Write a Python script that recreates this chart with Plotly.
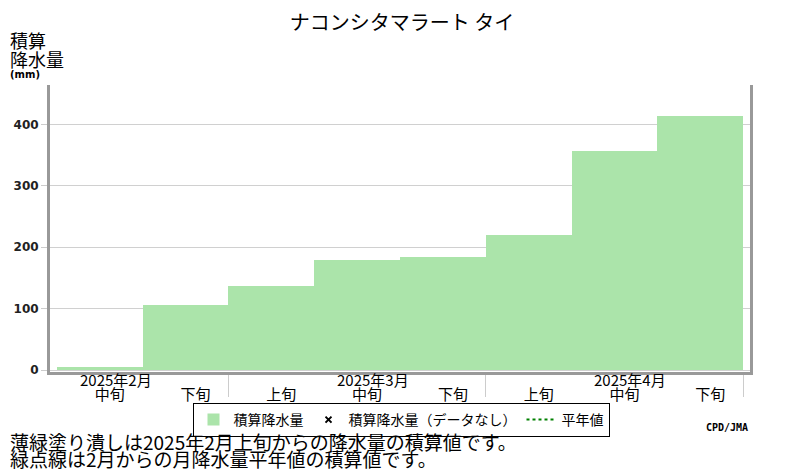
import plotly.graph_objects as pgo

# Data
months = ["2025年2月", "2025年2月", "2025年3月", "2025年3月", "2025年3月",
          "2025年4月", "2025年4月", "2025年4月"]
dekads = ["中旬", "下旬", "上旬", "中旬", "下旬", "上旬", "中旬", "下旬"]
precip = [5, 106, 137, 179, 184, 220, 356, 413]
yticks = [0, 100, 200, 300, 400]

title = "ナコンシタマラート タイ"
note1 = "薄緑塗り潰しは2025年2月上旬からの降水量の積算値です。"
note2 = "緑点線は2月からの月降水量平年値の積算値です。"

jp = "Noto Sans CJK JP"
green = "#abe4aa"

# the page body adds an 8px margin, so work in screen pixels minus 8
OFF = 8
W, H = 800 - OFF, 470 - OFF
L, R, T, B = 50 - OFF, 750 - OFF, 85 - OFF, 372 - OFF
def px(x):
    return (x - OFF - L) / (R - L)
def py(y):
    return (B - (y - OFF)) / (B - T)

xs = list(range(len(precip)))
# month boundaries (where the month changes) + right end
bounds = [i - 0.5 for i in range(1, len(months)) if months[i] != months[i - 1]] + [len(months) - 0.5]

fig = pgo.Figure()
fig.add_trace(pgo.Bar(x=xs, y=precip, width=1, marker=dict(color=green, line_width=0),
                      name="積算降水量"))
fig.add_trace(pgo.Scatter(x=[None], y=[None], mode="markers",
                          marker=dict(symbol="x-thin", size=6, color="black", line=dict(width=2, color="black")),
                          name="積算降水量（データなし）"))
fig.add_trace(pgo.Scatter(x=[None], y=[None], mode="lines",
                          line=dict(color="green", dash="dot", width=2), name="平年値"))

fig.update_layout(
    width=W, height=H,
    margin=dict(l=L, r=W - R, t=T, b=H - B, autoexpand=False),
    plot_bgcolor="white", paper_bgcolor="white",
    font=dict(family=jp, color="black"),
    title=dict(text=title, x=px(402), xanchor="center", xref="paper", y=1 - (22.5 - OFF) / H,
               yanchor="middle", font=dict(size=20, family=jp)),
    bargap=0,
    legend=dict(orientation="h", x=px(401), xanchor="center", y=py(403), yanchor="top",
                bordercolor="black", borderwidth=1, font=dict(size=14, family=jp),
                itemwidth=30, tracegroupgap=0),
    showlegend=True,
)

fig.update_xaxes(
    range=[-0.58, 7.58], tickvals=xs, ticktext=dekads, ticks="",
    tickfont=dict(size=15, family=jp), ticklabelshift=10, ticklabelstandoff=7,
    showline=True, linecolor="#999999", linewidth=3, showgrid=False, zeroline=False,
    automargin=False,
    minor=dict(tickvals=bounds, ticks="outside", ticklen=22, tickcolor="#cccccc", tickwidth=1),
)
fig.update_yaxes(
    range=[-3, 464], tickvals=yticks, ticks="outside", ticklen=6, tickcolor="#cccccc",
    tickfont=dict(size=12, family="DejaVu Sans", weight="bold", color="#222222"),
    showline=True, mirror=True, linecolor="#999999", linewidth=3,
    showgrid=True, gridcolor="#d0d0d0", gridwidth=1, zeroline=False,
    automargin=False,
)

# month labels above the 中旬 ticks
for i, (m, d) in enumerate(zip(months, dekads)):
    if d == "中旬":
        fig.add_annotation(text=m, x=xs[i], xref="x", y=py(379), yref="paper",
                           yanchor="middle", showarrow=False, xshift=16,
                           font=dict(size=15, family=jp))

# Axis title (top left)
fig.add_annotation(text="積算", xref="paper", yref="paper", x=px(8), y=py(40),
                   xanchor="left", yanchor="middle", showarrow=False, font=dict(size=18, family=jp))
fig.add_annotation(text="降水量", xref="paper", yref="paper", x=px(8), y=py(59),
                   xanchor="left", yanchor="middle", showarrow=False, font=dict(size=18, family=jp))
fig.add_annotation(text="(mm)", xref="paper", yref="paper", x=px(8), y=py(74),
                   xanchor="left", yanchor="middle", showarrow=False,
                   font=dict(size=10, family="DejaVu Sans", weight="bold"))

# Notes below
fig.add_annotation(text=note1, xref="paper", yref="paper", x=px(8), y=py(441),
                   xanchor="left", yanchor="middle", showarrow=False, font=dict(size=19, family=jp))
fig.add_annotation(text=note2, xref="paper", yref="paper", x=px(8), y=py(458),
                   xanchor="left", yanchor="middle", showarrow=False, font=dict(size=19, family=jp))
fig.add_annotation(text="CPD/JMA", xref="paper", yref="paper", x=px(750), y=py(427),
                   xanchor="right", yanchor="middle", showarrow=False,
                   font=dict(size=10, family="DejaVu Sans Mono", weight="bold"))

fig.write_html("out.html", config={'displayModeBar': False})
